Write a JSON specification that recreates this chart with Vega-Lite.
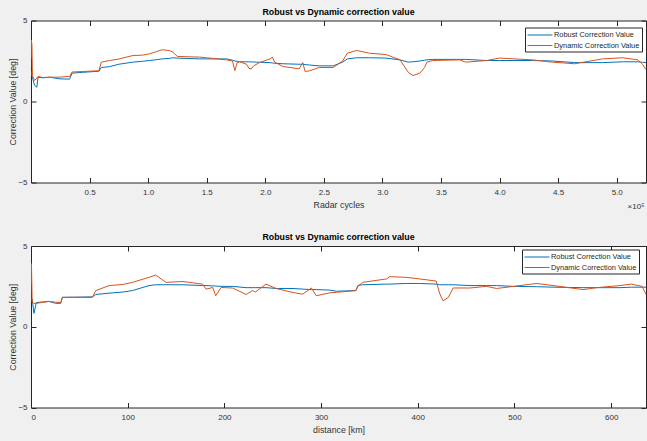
{
  "$schema": "https://vega.github.io/schema/vega-lite/v6.json",
  "autosize": {"type": "pad"},
  "padding": {"left": 7, "top": 7.5, "right": 0, "bottom": 5},
  "background": "#f0f0f0",
  "bounds": "flush",
  "spacing": 63.5,
  "datasets": {
    "top": [
      {"x": 0.000, "r": 1.9, "d": 2.7},
      {"x": 0.003, "r": 1.8, "d": 3.8},
      {"x": 0.008, "r": 1.6, "d": 3.5},
      {"x": 0.012, "r": 1.5, "d": 1.6},
      {"x": 0.03, "r": 1.0, "d": 1.3},
      {"x": 0.05, "r": 0.88, "d": 1.45},
      {"x": 0.06, "r": 1.5, "d": 1.55},
      {"x": 0.10, "r": 1.46, "d": 1.48},
      {"x": 0.16, "r": 1.5, "d": 1.5},
      {"x": 0.24, "r": 1.4, "d": 1.5},
      {"x": 0.33, "r": 1.38, "d": 1.55},
      {"x": 0.35, "r": 1.75, "d": 1.82},
      {"x": 0.44, "r": 1.8, "d": 1.85},
      {"x": 0.58, "r": 1.87, "d": 1.9},
      {"x": 0.60, "r": 2.1, "d": 2.43},
      {"x": 0.67, "r": 2.15, "d": 2.53},
      {"x": 0.75, "r": 2.3, "d": 2.62},
      {"x": 0.87, "r": 2.43, "d": 2.84},
      {"x": 0.95, "r": 2.48, "d": 2.86},
      {"x": 1.01, "r": 2.53, "d": 2.94},
      {"x": 1.07, "r": 2.58, "d": 3.08},
      {"x": 1.12, "r": 2.63, "d": 3.19},
      {"x": 1.18, "r": 2.66, "d": 3.15},
      {"x": 1.21, "r": 2.7, "d": 3.05},
      {"x": 1.25, "r": 2.68, "d": 2.78},
      {"x": 1.44, "r": 2.63, "d": 2.74},
      {"x": 1.50, "r": 2.63, "d": 2.7},
      {"x": 1.67, "r": 2.63, "d": 2.57},
      {"x": 1.72, "r": 2.55, "d": 2.5},
      {"x": 1.74, "r": 2.5, "d": 1.91},
      {"x": 1.76, "r": 2.48, "d": 2.4},
      {"x": 1.78, "r": 2.45, "d": 2.45},
      {"x": 1.84, "r": 2.45, "d": 2.3},
      {"x": 1.86, "r": 2.45, "d": 2.05},
      {"x": 1.88, "r": 2.44, "d": 2.0},
      {"x": 1.90, "r": 2.44, "d": 2.2},
      {"x": 1.95, "r": 2.42, "d": 2.4},
      {"x": 2.04, "r": 2.4, "d": 2.63},
      {"x": 2.06, "r": 2.38, "d": 2.74},
      {"x": 2.08, "r": 2.36, "d": 2.43},
      {"x": 2.15, "r": 2.33, "d": 2.16},
      {"x": 2.29, "r": 2.3, "d": 2.02},
      {"x": 2.32, "r": 2.3, "d": 2.4},
      {"x": 2.34, "r": 2.28, "d": 1.85},
      {"x": 2.38, "r": 2.25, "d": 1.9},
      {"x": 2.46, "r": 2.2, "d": 2.1},
      {"x": 2.58, "r": 2.2, "d": 2.1},
      {"x": 2.66, "r": 2.43, "d": 2.5},
      {"x": 2.70, "r": 2.63, "d": 2.98},
      {"x": 2.78, "r": 2.7, "d": 3.15},
      {"x": 2.89, "r": 2.7, "d": 2.98},
      {"x": 3.03, "r": 2.68, "d": 2.9},
      {"x": 3.15, "r": 2.57, "d": 2.57},
      {"x": 3.22, "r": 2.43, "d": 1.81},
      {"x": 3.26, "r": 2.45, "d": 1.6},
      {"x": 3.32, "r": 2.5, "d": 1.75},
      {"x": 3.36, "r": 2.55, "d": 2.1},
      {"x": 3.38, "r": 2.57, "d": 2.43},
      {"x": 3.43, "r": 2.6, "d": 2.53},
      {"x": 3.66, "r": 2.6, "d": 2.57},
      {"x": 3.71, "r": 2.6, "d": 2.43},
      {"x": 3.89, "r": 2.53, "d": 2.53},
      {"x": 4.00, "r": 2.53, "d": 2.68},
      {"x": 4.28, "r": 2.53, "d": 2.57},
      {"x": 4.45, "r": 2.5, "d": 2.43},
      {"x": 4.64, "r": 2.4, "d": 2.33},
      {"x": 4.88, "r": 2.4, "d": 2.63},
      {"x": 5.05, "r": 2.45, "d": 2.7},
      {"x": 5.18, "r": 2.45, "d": 2.57},
      {"x": 5.22, "r": 2.42, "d": 2.3},
      {"x": 5.25, "r": 2.4, "d": 1.97}
    ],
    "bottom": [
      {"x": 0, "r": 1.75, "d": 2.6},
      {"x": 0.5, "r": 1.75, "d": 3.9},
      {"x": 1.2, "r": 1.72, "d": 1.5},
      {"x": 3, "r": 0.83, "d": 1.45},
      {"x": 5.5, "r": 1.5, "d": 1.45},
      {"x": 18.7, "r": 1.57, "d": 1.57},
      {"x": 25.5, "r": 1.45, "d": 1.52},
      {"x": 30.7, "r": 1.45, "d": 1.5},
      {"x": 32.5, "r": 1.82, "d": 1.82},
      {"x": 63.5, "r": 1.85, "d": 1.82},
      {"x": 67, "r": 2.0, "d": 2.24},
      {"x": 80.8, "r": 2.08, "d": 2.55},
      {"x": 95, "r": 2.15, "d": 2.62},
      {"x": 105, "r": 2.24, "d": 2.75},
      {"x": 122, "r": 2.55, "d": 3.06},
      {"x": 129, "r": 2.6, "d": 3.2},
      {"x": 139.5, "r": 2.6, "d": 2.75},
      {"x": 157, "r": 2.6, "d": 2.8},
      {"x": 177.5, "r": 2.55, "d": 2.64},
      {"x": 181, "r": 2.55, "d": 2.33},
      {"x": 188, "r": 2.53, "d": 2.43},
      {"x": 191, "r": 2.52, "d": 1.92},
      {"x": 196.6, "r": 2.5, "d": 2.43},
      {"x": 208.6, "r": 2.5, "d": 2.4},
      {"x": 222.5, "r": 2.42, "d": 2.0},
      {"x": 229, "r": 2.42, "d": 2.24},
      {"x": 232, "r": 2.42, "d": 2.15},
      {"x": 243, "r": 2.42, "d": 2.64},
      {"x": 253.5, "r": 2.37, "d": 2.37},
      {"x": 271, "r": 2.37, "d": 2.12},
      {"x": 281, "r": 2.33, "d": 2.02},
      {"x": 290, "r": 2.3, "d": 2.4},
      {"x": 295, "r": 2.3, "d": 1.92},
      {"x": 309, "r": 2.27, "d": 2.1},
      {"x": 315.8, "r": 2.2, "d": 2.13},
      {"x": 336, "r": 2.24, "d": 2.24},
      {"x": 338, "r": 2.55, "d": 2.5},
      {"x": 343, "r": 2.6, "d": 2.75},
      {"x": 367.6, "r": 2.64, "d": 2.96},
      {"x": 371, "r": 2.64, "d": 3.1},
      {"x": 388, "r": 2.68, "d": 3.06},
      {"x": 402, "r": 2.68, "d": 2.96},
      {"x": 419, "r": 2.64, "d": 2.83},
      {"x": 422.8, "r": 2.6, "d": 2.03},
      {"x": 426, "r": 2.6, "d": 1.61},
      {"x": 431.5, "r": 2.6, "d": 1.81},
      {"x": 436.6, "r": 2.6, "d": 2.4},
      {"x": 454, "r": 2.55, "d": 2.4},
      {"x": 471, "r": 2.55, "d": 2.5},
      {"x": 481.5, "r": 2.55, "d": 2.37},
      {"x": 499, "r": 2.5, "d": 2.5},
      {"x": 523, "r": 2.48, "d": 2.68},
      {"x": 540, "r": 2.45, "d": 2.55},
      {"x": 571, "r": 2.42, "d": 2.3},
      {"x": 585, "r": 2.42, "d": 2.42},
      {"x": 609, "r": 2.42, "d": 2.55},
      {"x": 621, "r": 2.45, "d": 2.64},
      {"x": 632, "r": 2.45, "d": 2.5},
      {"x": 636, "r": 2.45, "d": 2.0}
    ]
  },
  "vconcat": [
    {
      "width": 615,
      "height": 162,
      "title": {"text": "Robust vs Dynamic correction value", "frame": "group", "offset": -0.5},
      "resolve": {"axis": {"x": "independent", "y": "independent"}},
      "layer": [
        {
          "data": {"name": "top"},
          "transform": [{"fold": ["r", "d"], "as": ["s", "v"]}],
          "mark": {"type": "line", "strokeWidth": 1, "clip": true},
          "encoding": {
            "x": {"field": "x", "type": "quantitative",
                  "scale": {"domain": [0, 5.25], "nice": false, "zero": false},
                  "axis": {"orient": "bottom", "values": [0.5, 1, 1.5, 2, 2.5, 3, 3.5, 4, 4.5, 5], "labelPadding": 10.5, "title": "Radar cycles", "titleX": 307.5, "titleY": 22, "titleBaseline": "middle"}},
            "y": {"field": "v", "type": "quantitative",
                  "scale": {"domain": [-5, 5], "nice": false},
                  "axis": {"orient": "left", "values": [-5, 0, 5], "title": "Correction Value [deg]", "titleX": -19, "titleY": 81, "titleBaseline": "middle"}},
            "color": {"field": "s", "type": "nominal",
                      "scale": {"domain": ["r", "d"], "range": ["#0072BD", "#D95319"]},
                      "legend": {"legendX": 494, "legendY": 7, "labelExpr": "datum.label == 'r' ? 'Robust Correction Value' : 'Dynamic Correction Value'"}}
          }
        },
        {
          "data": {"values": [{"x": 5.25, "y": -5, "t": "×10⁵"}]},
          "mark": {"type": "text", "dx": -10, "dy": 24, "align": "center", "baseline": "middle", "fontSize": 8, "color": "#333", "clip": false},
          "encoding": {
            "x": {"field": "x", "type": "quantitative", "axis": {"orient": "top", "values": [0.5, 1, 1.5, 2, 2.5, 3, 3.5, 4, 4.5, 5], "labels": false, "title": null}},
            "y": {"field": "y", "type": "quantitative", "axis": {"orient": "right", "values": [-5, 0, 5], "labels": false, "title": null}},
            "text": {"field": "t"}
          }
        }
      ]
    },
    {
      "width": 615,
      "height": 161.5,
      "title": {"text": "Robust vs Dynamic correction value", "frame": "group", "offset": 0.5},
      "resolve": {"axis": {"x": "independent", "y": "independent"}},
      "layer": [
        {
          "data": {"name": "bottom"},
          "transform": [{"fold": ["r", "d"], "as": ["s", "v"]}],
          "mark": {"type": "line", "strokeWidth": 1, "clip": true},
          "encoding": {
            "x": {"field": "x", "type": "quantitative",
                  "scale": {"domain": [0, 636], "nice": false, "zero": false},
                  "axis": {"orient": "bottom", "values": [0, 100, 200, 300, 400, 500, 600], "labelPadding": 10.5, "title": "distance [km]", "titleX": 307.5, "titleY": 22, "titleBaseline": "middle"}},
            "y": {"field": "v", "type": "quantitative",
                  "scale": {"domain": [-5, 5], "nice": false},
                  "axis": {"orient": "left", "values": [-5, 0, 5], "title": "Correction Value [deg]", "titleX": -19, "titleY": 80.75, "titleBaseline": "middle"}},
            "color": {"field": "s", "type": "nominal",
                      "scale": {"domain": ["r", "d"], "range": ["#0072BD", "#D95319"]},
                      "legend": {"legendX": 491, "legendY": 3.5, "labelExpr": "datum.label == 'r' ? 'Robust Correction Value' : 'Dynamic Correction Value'"}}
          }
        },
        {
          "data": {"values": [{"x": 0, "y": 0, "t": ""}]},
          "mark": {"type": "text"},
          "encoding": {
            "x": {"field": "x", "type": "quantitative", "axis": {"orient": "top", "values": [100, 200, 300, 400, 500, 600], "labels": false, "title": null}},
            "y": {"field": "y", "type": "quantitative", "axis": {"orient": "right", "values": [-5, 0, 5], "labels": false, "title": null}},
            "text": {"field": "t"}
          }
        }
      ]
    }
  ],
  "resolve": {"scale": {"color": "independent"}, "legend": {"color": "independent"}},
  "config": {
    "font": "Liberation Sans",
    "view": {"fill": "white", "stroke": "#262626", "strokeWidth": 1},
    "axis": {"grid": false, "domain": false, "tickColor": "#262626", "tickSize": -5, "labelPadding": 9,
             "labelFont": "Liberation Sans", "labelFontSize": 8, "labelColor": "#333",
             "titleFont": "Liberation Sans", "titleFontSize": 8.8, "titleFontWeight": "normal", "titleColor": "#333"},
    "legend": {"orient": "none", "title": null, "symbolType": "M-2.5,0H2.5", "symbolSize": 100, "symbolStrokeWidth": 1, "symbolOffset": 7.5,
               "labelFont": "Liberation Sans", "labelFontSize": 7.4, "labelColor": "#262626", "padding": 2, "labelOffset": 8.5,
               "strokeColor": "#262626", "fillColor": "white", "rowPadding": 1.5, "cornerRadius": 0},
    "title": {"font": "Liberation Sans", "fontSize": 8.8, "fontWeight": "bold", "color": "#000", "anchor": "middle"}
  }
}
